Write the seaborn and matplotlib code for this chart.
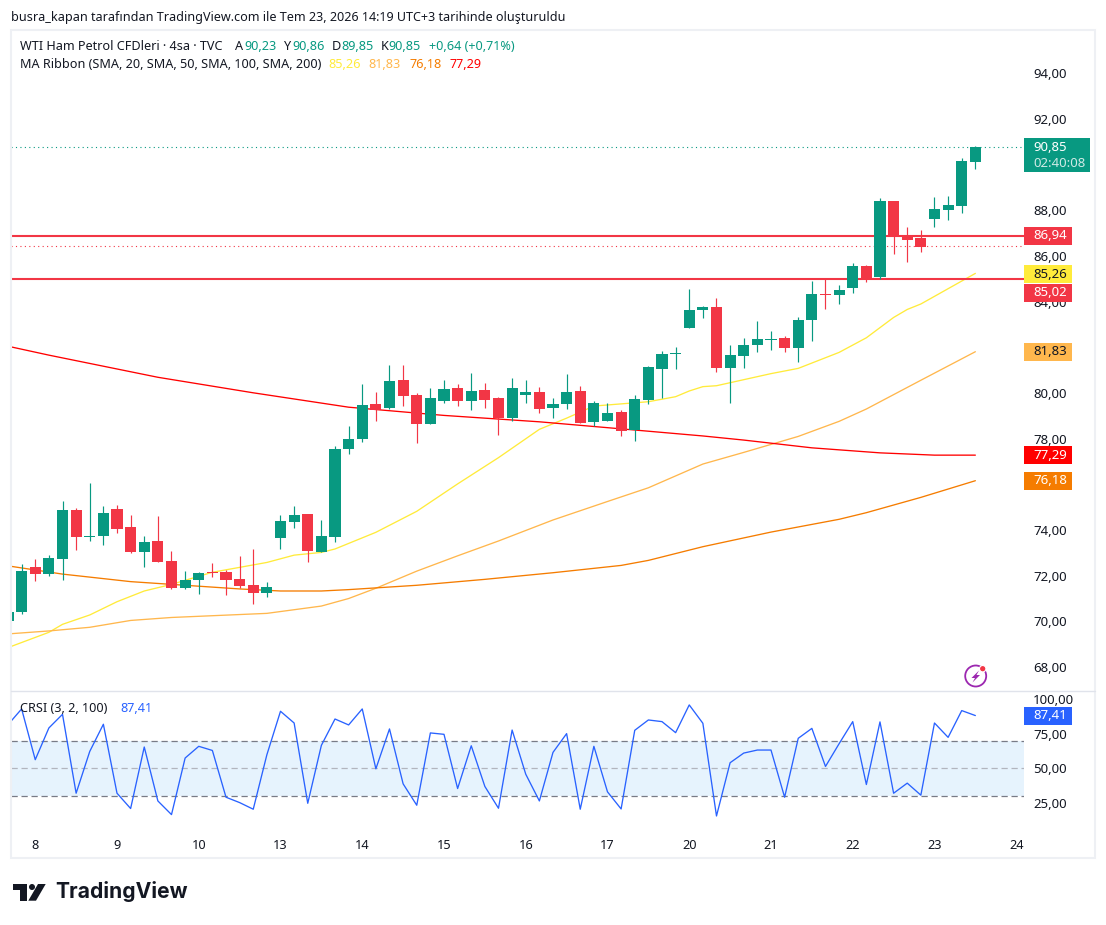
import numpy as np
import pandas as pd
import matplotlib
matplotlib.use('Agg')
import matplotlib.pyplot as plt
from matplotlib.patches import Circle, Polygon, Rectangle
from matplotlib.transforms import blended_transform_factory
import seaborn as sns

#------------------------------ DATA ------------------------------
bars = list(range(-2, 70))   # 4h bars, 0 is the first bar of the 8th
open_ = [70.01, 70.41, 72.38, 72.07, 72.73, 74.88, 73.69, 73.74, 74.92, 74.13, 73.04, 73.52,
         72.64, 71.46, 71.81, 72.16, 72.16, 71.85, 71.59, 71.24, 73.65, 74.35, 74.70, 73.04,
         73.69, 77.55, 77.99, 79.52, 79.34, 80.57, 79.91, 78.64, 79.65, 80.22, 79.65, 80.13,
         79.78, 78.91, 79.91, 80.04, 79.34, 79.52, 80.09, 78.73, 78.77, 79.17, 78.38, 79.69,
         81.05, 81.71, 82.85, 83.64, 83.77, 81.09, 81.62, 82.10, 82.32, 82.41, 81.97, 83.20,
         84.34, 84.29, 84.60, 85.56, 85.08, 88.41, 86.88, 86.79, 87.62, 88.01, 88.19, 90.12]
high = [70.41, 72.51, 72.73, 72.91, 75.27, 74.96, 76.06, 75.05, 75.09, 74.66, 73.74, 74.61,
        73.08, 72.20, 72.16, 72.55, 72.25, 72.86, 73.17, 71.72, 74.66, 75.05, 74.70, 74.44,
        77.68, 78.55, 80.39, 80.04, 81.23, 81.23, 80.00, 80.22, 80.57, 80.39, 80.88, 80.44,
        79.82, 80.66, 80.57, 80.26, 79.78, 80.83, 80.31, 79.65, 79.56, 79.26, 79.91, 81.18,
        81.84, 82.01, 84.55, 83.81, 84.16, 82.10, 82.41, 83.15, 82.72, 82.50, 83.33, 84.91,
        84.99, 84.73, 85.69, 85.61, 88.54, 88.41, 87.27, 87.14, 88.58, 88.63, 90.29, 90.82]
low = [70.01, 70.32, 71.77, 71.99, 71.81, 73.12, 73.52, 73.34, 73.87, 72.99, 72.38, 72.60,
       71.42, 71.42, 71.20, 71.94, 71.15, 71.46, 70.76, 71.07, 73.17, 74.09, 72.60, 73.04,
       73.47, 77.33, 77.85, 78.77, 79.30, 79.43, 77.81, 78.64, 79.56, 79.43, 79.26, 79.34,
       78.16, 78.77, 79.56, 79.12, 78.91, 79.30, 78.69, 78.55, 78.77, 78.12, 77.90, 79.52,
       79.78, 81.05, 82.85, 83.28, 80.92, 79.56, 81.09, 81.80, 81.88, 81.80, 81.36, 82.28,
       83.68, 83.90, 84.38, 84.86, 84.99, 86.09, 85.74, 86.18, 87.27, 87.58, 87.88, 89.81]
close = [70.41, 72.20, 72.07, 72.77, 74.88, 73.69, 73.74, 74.74, 74.04, 73.04, 73.47, 72.60,
         71.46, 71.81, 72.12, 72.12, 71.81, 71.55, 71.24, 71.50, 74.39, 74.66, 73.08, 73.74,
         77.55, 77.99, 79.47, 79.26, 80.53, 79.87, 78.64, 79.78, 80.18, 79.65, 80.09, 79.69,
         78.91, 80.22, 80.04, 79.30, 79.52, 80.04, 78.69, 79.56, 79.12, 78.34, 79.74, 81.14,
         81.71, 81.75, 83.64, 83.77, 81.09, 81.66, 82.10, 82.36, 82.36, 81.97, 83.20, 84.34,
         84.29, 84.51, 85.56, 84.99, 88.41, 86.88, 86.70, 86.39, 88.06, 88.23, 90.16, 90.77]

ma20_x = [-2, 1, 2, 4, 6, 8, 10, 13, 17, 19, 21, 22, 25, 28, 31, 34, 37, 39, 41, 45, 47, 48, 49, 50, 54, 56, 59, 61, 63, 64, 65, 69]
ma20 = [68.85, 69.52, 69.87, 70.28, 70.86, 71.33, 71.62, 72.15, 72.58, 72.90, 73.02, 73.17, 73.90, 74.82, 76.02, 77.17,
        78.41, 78.90, 79.43, 79.62, 79.84, 80.09, 80.28, 80.32, 80.85, 81.08, 81.78, 82.42, 83.31, 83.66, 83.90, 85.24]
ma50_x = [-2, 1, 4, 7, 10, 17, 21, 23, 25, 28, 31, 34, 38, 42, 45, 49, 52, 56, 59, 61, 65, 69]
ma50 = [69.45, 69.58, 69.74, 70.04, 70.17, 70.35, 70.67, 71.00, 71.45, 72.20, 72.87, 73.52, 74.44, 75.25, 75.85, 76.89,
        77.40, 78.10, 78.76, 79.30, 80.56, 81.81]
ma100_x = [-2, 2, 7, 10, 15, 18, 21, 23, 28, 33, 38, 43, 45, 49, 54, 59, 61, 65, 69]
ma100 = [72.43, 72.07, 71.74, 71.62, 71.42, 71.33, 71.33, 71.39, 71.58, 71.84, 72.13, 72.45, 72.67, 73.27, 73.91, 74.47,
         74.76, 75.43, 76.16]
ma200_x = [-2, 1, 9, 16, 23, 30, 37, 44, 49, 52, 57, 62, 66, 69]
ma200 = [82.05, 81.66, 80.69, 80.01, 79.38, 79.02, 78.74, 78.38, 78.12, 77.94, 77.60, 77.38, 77.28, 77.28]

crsi = [81.5, 92.9, 56.1, 79.1, 89.0, 31.8, 62.1, 81.8, 31.8, 20.7, 65.3, 26.2, 16.3, 57.3, 65.8, 62.8, 28.9, 25.0,
        20.2, 59.7, 91.2, 82.7, 24.5, 66.5, 85.6, 81.3, 92.9, 49.5, 78.4, 38.6, 23.1, 75.5, 74.5, 35.2, 66.2, 36.7,
        20.9, 77.6, 45.6, 26.2, 61.4, 75.0, 20.2, 65.8, 32.8, 20.4, 77.4, 84.9, 83.7, 75.7, 95.8, 82.5, 15.3, 53.9,
        60.9, 63.1, 63.1, 28.9, 71.6, 78.8, 51.2, 67.7, 83.7, 38.1, 83.5, 31.8, 39.1, 30.4, 82.7, 72.3, 91.7, 88.1]

level_prices = [86.88, 84.99]
prev_close = 86.42
# 90, 82 and 76 sit fully behind the price tags in the reference
price_ticks = [68, 70, 72, 74, 78, 80, 84, 86, 88, 92, 94]
crsi_ticks = [25, 50, 75, 100]
day_ticks = [0, 6, 12, 18, 24, 30, 36, 42, 48, 54, 60, 66, 72]
day_labels = ['8', '9', '10', '13', '14', '15', '16', '17', '20', '21', '22', '23', '24']

tag_texts = ['86,94', '85,26', '85,02', '81,83', '77,29', '76,18']
tag_prices = [86.88, 85.21, 84.40, 81.80, 77.28, 76.15]
tag_colors = ['#F23645', '#FFEB3B', '#F23645', '#FFB74D', '#FF0000', '#F57C00']
tag_inks = ['white', '#131722', 'white', '#131722', 'white', 'white']

GREEN = '#089981'
RED = '#F23645'
INK = '#131722'
W, H = 1106, 925
PANE_L, PANE_R = 11, 1024

sns.set_theme(style='white')
plt.rcParams['font.family'] = ['Noto Sans', 'DejaVu Sans']

df = pd.DataFrame({'bar': bars, 'open': open_, 'high': high, 'low': low, 'close': close})
df['up'] = df['close'] >= df['open']
df['color'] = np.where(df['up'], GREEN, RED)

fig = plt.figure(figsize=(W / 100, H / 100), dpi=100, facecolor='white')

def pane(top, bottom):
    return fig.add_axes([PANE_L / W, 1 - bottom / H, (PANE_R - PANE_L) / W, (bottom - top) / H])

ax = pane(30, 691)
ax2 = pane(691, 825)
for a in (ax, ax2):
    a.set_xlim(-1.78, 72.57)
    a.yaxis.tick_right()
    a.tick_params(axis='y', length=0, pad=6.5, labelsize=9.5, labelcolor=INK)
    a.tick_params(axis='x', length=0)
    a.set_xlabel('')
    a.set_ylabel('')
    a.grid(False)
    sns.despine(ax=a, left=True, bottom=True, right=True, top=True)

#------------------------------ PRICE PANE ------------------------------
ax.set_ylim(66.95, 95.90)
sns.lineplot(x=ma20_x, y=ma20, ax=ax, color='#FFEB3B', linewidth=0.95, zorder=2)
sns.lineplot(x=ma50_x, y=ma50, ax=ax, color='#FFB74D', linewidth=0.95, zorder=2)
sns.lineplot(x=ma100_x, y=ma100, ax=ax, color='#F57C00', linewidth=0.95, zorder=2)
sns.lineplot(x=ma200_x, y=ma200, ax=ax, color='#FF0000', linewidth=0.95, zorder=2)
for price in level_prices:
    ax.axhline(price, color=RED, linewidth=1.5, zorder=2.5)
ax.axhline(close[-1], color=GREEN, linewidth=0.8, linestyle=(0, (1, 3)), zorder=2.5)
ax.axhline(prev_close, color=RED, linewidth=0.8, linestyle=(0, (1, 3)), zorder=2.5)

ax.vlines(df['bar'], df['low'], df['high'], colors=df['color'], linewidth=0.85, zorder=3)
ax.bar(df['bar'], (df['close'] - df['open']).abs().clip(lower=0.05), bottom=df[['open', 'close']].min(axis=1),
       width=0.81, color=df['color'], linewidth=0, zorder=3.5)

ax.set_yticks(price_ticks)
ax.set_yticklabels([f'{p:.2f}'.replace('.', ',') for p in price_ticks])
ax.set_xticks([])
ax.set_ylabel('')

# price tags on the right scale
tr = blended_transform_factory(ax.transAxes, ax.transData)
span = PANE_R - PANE_L
def tag(a, trans, y, height, text, bg, ink, width=48):
    a.add_patch(Rectangle((1, y - height / 2), width / span, height, transform=trans, facecolor=bg,
                          edgecolor='none', clip_on=False, zorder=6))
    a.text(1 + 9 / span, y, text, transform=trans, color=ink, fontsize=9.5, fontweight='semibold',
           ha='left', va='center', clip_on=False, zorder=7)

px_price = (95.90 - 66.95) / 661
for text, y, bg, ink in zip(tag_texts, tag_prices, tag_colors, tag_inks):
    tag(ax, tr, y, 18 * px_price, text, bg, ink)

ax.add_patch(Rectangle((1, 90.42 - 17 * px_price), 66 / span, 34 * px_price, transform=tr, facecolor=GREEN,
                       edgecolor='none', clip_on=False, zorder=6))
ax.text(1 + 9 / span, 90.42 + 8 * px_price, '90,85', transform=tr, color='white', fontsize=9.5, fontweight='semibold',
        ha='left', va='center', clip_on=False, zorder=7)
ax.text(1 + 9 / span, 90.42 - 8 * px_price, '02:40:08', transform=tr, color='#CFEAE5', fontsize=9.5,
        ha='left', va='center', clip_on=False, zorder=7)

#------------------------------ CRSI PANE ------------------------------
ax2.set_ylim(8.76, 105.9)
ax2.axhspan(30, 70, color='#E6F3FD', linewidth=0, zorder=1)
ax2.axhline(70, color='#787B86', linewidth=0.9, linestyle=(0, (5, 3)), zorder=1.5)
ax2.axhline(50, color='#B2B5BE', linewidth=0.9, linestyle=(0, (5, 3)), zorder=1.5)
ax2.axhline(30, color='#787B86', linewidth=0.9, linestyle=(0, (5, 3)), zorder=1.5)
sns.lineplot(x=bars, y=crsi, ax=ax2, color='#2962FF', linewidth=0.95, zorder=3)
ax2.set_yticks(crsi_ticks)
ax2.set_yticklabels([f'{v:.2f}'.replace('.', ',') for v in crsi_ticks])
ax2.set_xticks(day_ticks)
ax2.set_xticklabels(day_labels, fontsize=9.2, color=INK)
ax2.tick_params(axis='x', pad=10)
for t in ax2.get_xticklabels():
    if t.get_text() in ('13', '20'):
        t.set_fontweight('bold')
ax2.set_xlim(-1.78, 72.57)
ax2.set_ylabel('')
tr2 = blended_transform_factory(ax2.transAxes, ax2.transData)
tag(ax2, tr2, 88.0, 18 * (105.9 - 8.76) / 134, '87,41', '#2962FF', 'white')

#------------------------------ PAGE: frame, legend texts, logo ------------------------------
page = fig.add_axes([0, 0, 1, 1], zorder=10)
page.set_xlim(0, W)
page.set_ylim(H, 0)
page.axis('off')
page.patch.set_alpha(0)

page.add_patch(Rectangle((10.5, 30), 1084.5, 828, fill=False, edgecolor='#EEF0F4', linewidth=1.5))
page.plot([11, 1095], [691, 691], color='#E0E3EB', linewidth=1)

page.text(11, 17, 'busra_kapan tarafından TradingView.com ile Tem 23, 2026 14:19 UTC+3 tarihinde oluşturuldu',
          fontsize=9.05, color=INK, va='center')

line1 = [(20, 'WTI Ham Petrol CFDleri · 4sa · TVC', INK), (235, 'A', INK), (244, '90,23', GREEN), (284, 'Y', INK),
         (292, '90,86', GREEN), (332, 'D', INK), (341, '89,85', GREEN), (381, 'K', INK), (388, '90,85', GREEN),
         (429, '+0,64 (+0,71%)', GREEN)]
for x, s, c in line1:
    page.text(x, 46, s, fontsize=9.1, color=c, va='center')
line2 = [(20, 'MA Ribbon (SMA, 20, SMA, 50, SMA, 100, SMA, 200)', INK), (328, '85,26', '#FFEB3B'), (368.5, '81,83', '#FFB74D'),
         (409.5, '76,18', '#F57C00'), (450, '77,29', '#FF0000')]
for x, s, c in line2:
    page.text(x, 65, s, fontsize=9.1, color=c, va='center')
page.text(20, 708, 'CRSI (3, 2, 100)', fontsize=9.1, color=INK, va='center')
page.text(120, 708, '87,41', fontsize=9.1, color='#2962FF', va='center')

# lightning icon
page.add_patch(Circle((975.7, 676), 10.5, fill=False, edgecolor='#9C27B0', linewidth=1.3))
page.add_patch(Polygon([(979, 670.5), (971.5, 678), (975, 678), (972.5, 682.5), (980, 675), (976.5, 675)], closed=True,
                       facecolor='#9C27B0', edgecolor='none'))
page.add_patch(Circle((982.7, 668.7), 3.2, facecolor='#F23645', edgecolor='white', linewidth=0.8))

# TradingView logo
page.add_patch(Polygon([(13.3, 884), (27.3, 884), (27.3, 900.7), (20, 900.7), (20, 890), (13.3, 890)], closed=True,
                       facecolor='#131722', edgecolor='none'))
page.add_patch(Circle((32, 887), 3, facecolor='#131722', edgecolor='none'))
page.add_patch(Polygon([(38, 884), (45.7, 884), (36, 900.7), (28.3, 900.7)], closed=True, facecolor='#131722', edgecolor='none'))
page.text(55, 892, 'TradingView', fontsize=15.2, fontweight='bold', family=['Inter', 'DejaVu Sans'], color='#131722', va='center')

fig.savefig('out.png', dpi=100)
